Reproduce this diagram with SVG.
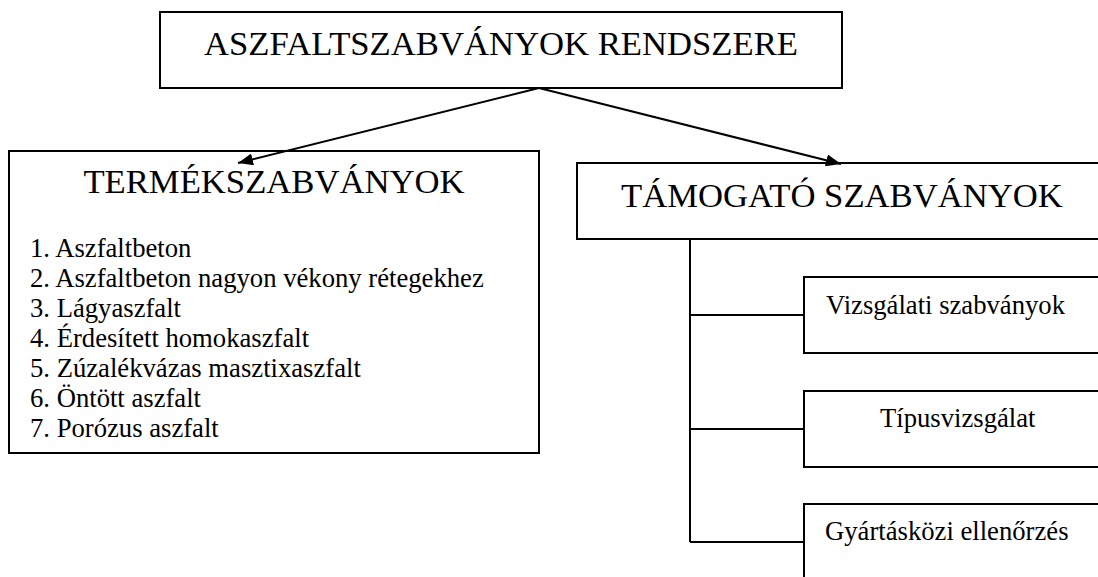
<svg xmlns="http://www.w3.org/2000/svg" width="1098" height="577" viewBox="0 0 1098 577">
<style>
.box{fill:#fff;stroke:#000;stroke-width:2}
.ln{fill:none;stroke:#000;stroke-width:2}
text{font-family:'Liberation Serif',Tinos,Times,'DejaVu Serif',serif;fill:#000}
.big{font-size:34.67px}
.sm{font-size:26.67px}
</style>
<defs>
<marker id="ah" markerWidth="16" markerHeight="12" refX="15" refY="6" orient="auto" markerUnits="userSpaceOnUse">
<path d="M0,0 L15,6 L0,12 Z" fill="#000"/>
</marker>
</defs>
<rect width="1098" height="577" fill="#fff"/>
<g id="root">
<rect class="box" x="160" y="12" width="682" height="76"/>
<text class="big" x="501" y="54.5" text-anchor="middle" font-family="Liberation Serif, serif">ASZFALTSZABVÁNYOK RENDSZERE</text>
</g>
<g id="termek">
<rect class="box" x="9" y="151" width="530" height="302"/>
<text class="big" x="274" y="193.3" text-anchor="middle">TERMÉKSZABVÁNYOK</text>
<text class="sm" x="30" y="256.7">1. Aszfaltbeton</text>
<text class="sm" x="30" y="286.7">2. Aszfaltbeton nagyon vékony rétegekhez</text>
<text class="sm" x="30" y="316.7">3. Lágyaszfalt</text>
<text class="sm" x="30" y="346.7">4. Érdesített homokaszfalt</text>
<text class="sm" x="30" y="376.7">5. Zúzalékvázas masztixaszfalt</text>
<text class="sm" x="30" y="406.7">6. Öntött aszfalt</text>
<text class="sm" x="30" y="436.7">7. Porózus aszfalt</text>
</g>
<g id="tamogato">
<rect class="box" x="577" y="163" width="560" height="76"/>
<text class="big" x="621" y="207.3">TÁMOGATÓ SZABVÁNYOK</text>
</g>
<g id="vizsgalati">
<rect class="box" x="804" y="277" width="340" height="76"/>
<text class="sm" x="826" y="314">Vizsgálati szabványok</text>
</g>
<g id="tipus">
<rect class="box" x="804" y="391" width="340" height="76"/>
<text class="sm" x="880" y="427">Típusvizsgálat</text>
</g>
<g id="gyartaskozi">
<rect class="box" x="804" y="504" width="340" height="100"/>
<text class="sm" x="825" y="540">Gyártásközi ellenőrzés</text>
</g>
<g id="connectors">
<line class="ln" x1="539" y1="88" x2="238" y2="163" marker-end="url(#ah)"/>
<line class="ln" x1="539" y1="88" x2="841" y2="164" marker-end="url(#ah)"/>
<path class="ln" d="M690,239 V542"/>
<path class="ln" d="M690,315 H804"/>
<path class="ln" d="M690,429 H804"/>
<path class="ln" d="M690,542 H804"/>
</g>
</svg>
